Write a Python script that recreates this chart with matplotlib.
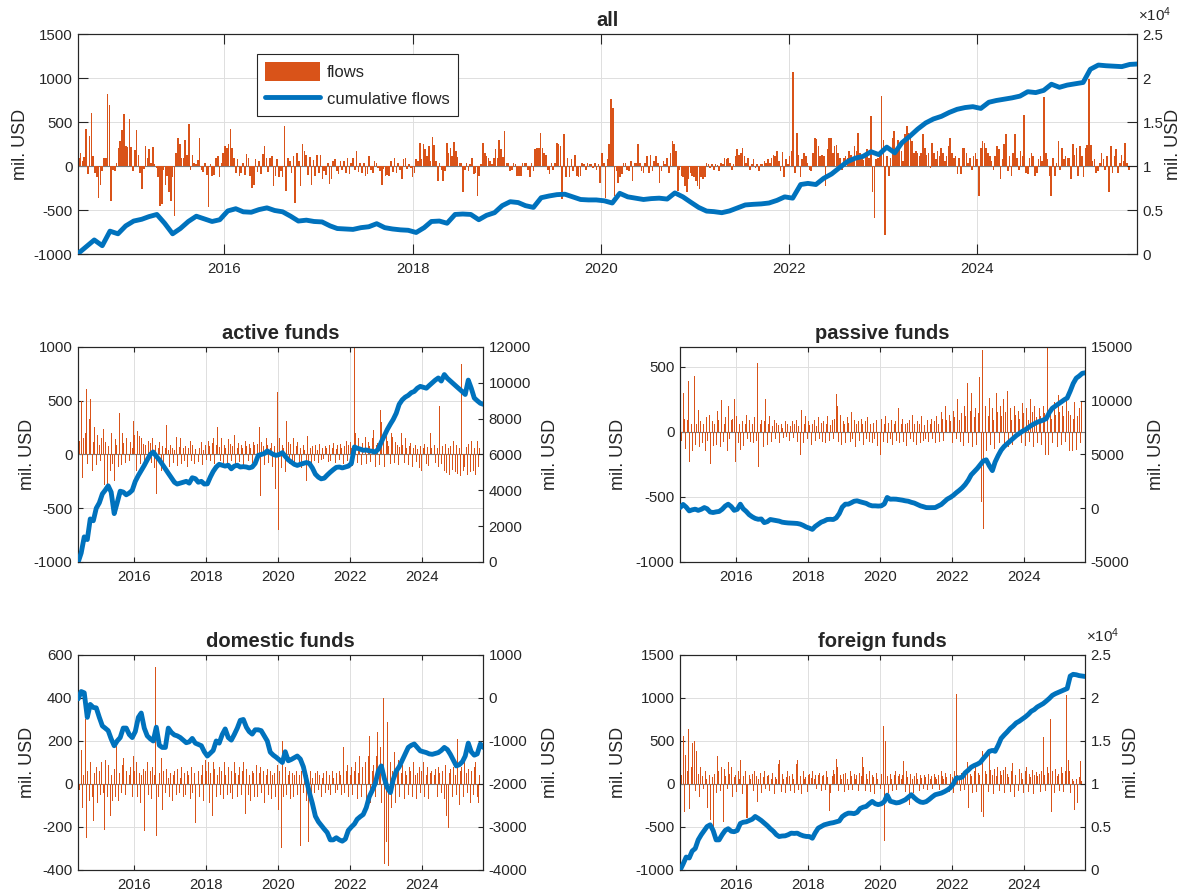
import matplotlib
matplotlib.use('Agg')
import matplotlib.pyplot as plt
import matplotlib.dates as mdates
from matplotlib.ticker import FuncFormatter
import pandas as pd

plt.rcParams['font.family'] = ['Liberation Sans', 'DejaVu Sans']
plt.rcParams['axes.unicode_minus'] = False
plt.rcParams['mathtext.fontset'] = 'custom'
plt.rcParams['mathtext.rm'] = 'Liberation Sans'

BAR_C = '#D95319'
LINE_C = '#0072BD'
TXT_C = '#262626'
GRID_C = '#dedede'

# ---- data (mil. USD) ----
# weekly flows, all funds
all_flows = [
    95, 150, 60, 100, 425, -95, 340, 600, 110, -80,
    -120, -360, -210, -60, 95, 95, 820, 690, -400, -40,
    -60, 30, 200, 280, 415, 590, 230, 220, 540, 220,
    -60, 180, 415, 130, -80, -260, -30, 230, 95, 190,
    40, 215, 20, -20, -130, -455, -435, -40, -220, -110,
    -300, -400, -130, -570, 145, 315, 245, 95, 90, 300,
    130, 475, -40, 120, 40, 20, 70, 320, -40, -70,
    40, -100, -460, 20, -110, -100, 90, 110, -120, 30,
    150, 230, 210, 250, 425, 210, 95, -80, 80, -110,
    -80, 40, -100, 140, 95, -110, -245, -220, 80, -70,
    60, -95, 140, 230, 95, -70, 95, 110, -230, -110,
    80, -130, -60, -120, 450, -285, 95, 60, -80, 110,
    -420, 150, 60, -230, 255, 170, 130, -100, 100, -210,
    70, -115, 130, -80, 130, -150, -60, -100, 40, -200,
    -150, 60, 80, -60, -90, 60, -40, 60, -80, 95,
    -95, 40, 95, -50, 170, -70, 40, -80, 30, -110,
    -90, 110, -50, -80, 60, 30, -20, -60, -210, -30,
    -110, -100, -110, 60, -70, 90, -80, 40, -50, -150,
    80, 95, -30, 20, -20, -130, -80, 80, 60, 265,
    80, 245, 190, 110, 230, 60, 325,
    240, 60, -170, 30, -40, -170, -60, 265, 150, 210,
    110, 275, 170, 100, 40, 40, -295, -40, 40, -60,
    20, 95, -95, -80, -340, -110, 20, 265, 150, 110,
    95, 60, 20, 95, 190, 95, 300, 190, 100, 400,
    30, 40, -60, -40, 40, 20, -110, -110, -110, 40,
    40, 40, -40, -130, 40, -60, 190, 210, 210, 370,
    210, 150, 130, -40, -95, 40, -40, 40, 260, 245,
    230, -380, 360, -130, 95, -130, 80, -60, 120, -110,
    -130, -110, 40, 20, -40, 40, 20, 20, -20, 40,
    -40, 20, -190, 150, 40, -360, 80, 250, 765, 665,
    -340, -60, -190, -130, -95, 40, 40, -40, -60, 60,
    -170, 40, 40, 245, 40, -60, -80, 40, 110, -80,
    120, -60, 60, 110, 40, -195, -60, 60, 20, 95,
    -80, 150, 290, 245, 170, -285, -40, -110, -130, -230,
    -300, -150, -80, -110, -130, -170, -230, -265, -130, -150,
    -130, 40, 20, -20, 20, -40, 20, 10, -60, 40,
    20, 95, 80, 95, 40, -40, 20, 110, 190, 130,
    150, 210, 110, 40, 95, -40, 20, 80, -20, 20,
    -60, 20, 20, 60, 40, 80, 40,
    95, 130, 110, 170, 60, -60, 160, -130, 80, 20,
    110, 170, 1070, -80, 380, 120, -130, 80, 150, 110,
    40, -40, -60, 150, 320, 310, 230, 110, 130, 110,
    -230, 190, 320, 320, 150, 230, 235, 150, 95, -40,
    95, 110, 95, 170, 130, 95, 230, 170, 380, 150,
    110, 70, 150, 190, 95, 570, -300, -590, 80, 95,
    150, 800, 300, -780, 110, -110, 95, 320, 400, 190,
    300, 250, 170, 60, 360, 450, 380, 360, 290, 150,
    170, 150, 110, 150, 360, 210, 130, 150, -20, 265,
    150, 80, 170, 110, 210, 150, 60, 110, 230, 320,
    150, 95, 110, -95, 95, -95, 210, 210, 150, 40,
    95, -40, 110, 150, 80, -340, 210, 285, 265, 210,
    150, 110, 60, -40, 110, 230, 190, -150, 80, 250,
    360, -60, 110, -110, 150, 360, 95, -40, 170, 110,
    575, -80, -95, 95, 150, 110, -110, -80, 80, 110,
    60, 790, 150, 80, -110, -340, 95, -110, 40, 285,
    -40, 210, 80, 110, 95, 95, -150, 245, 130, 210,
    -110, 230, 110, -130, 210, 235, 985, 235, 60, 80,
    -80, -60, 40, 150, 80, -40, 110, -300, 230, -80,
    110, 190, -80, 40, 130, 60, 265, 40, -40,
]

# monthly cumulative flows, all funds
all_cum = [
    100, 830, 1600, 950, 2600, 2300, 3200, 3750, 3950, 4250, 4500, 3500,
    2300, 2900, 3700, 4300, 4000, 3700, 3900, 4900, 5150, 4800, 4750, 5050,
    5250, 4950, 4800, 4300, 3750, 3850, 3700, 3650, 3200, 2900, 2850, 2800,
    3000, 3100, 3450, 3000, 2850, 2750, 2700, 2450, 3000, 3700, 3750, 3500,
    4500, 4550, 4500, 3900, 4400, 4700, 5500, 5950, 5850, 5500, 5300, 6400,
    6600, 6750, 6800, 6500, 6200, 6150, 6150, 6050, 5800, 6900, 6500, 6350,
    6200, 6300, 6350, 6250, 6950, 6500, 5900, 5300, 4880, 4820, 4700, 4900,
    5250, 5580, 5650, 5700, 5800, 6100, 6500, 6350, 7900, 8030, 7900, 8600,
    9100, 9800, 10500, 10900, 11100, 11630, 11300, 12150, 11500, 12650, 13400, 14200,
    14900, 15350, 15650, 16100, 16450, 16650, 16750, 16550, 17250, 17450, 17600, 17750,
    17950, 18450, 18350, 18600, 19300, 18950, 19200, 19350, 19500, 21000, 21480, 21400,
    21350, 21300, 21550, 21600,
]

# bi-weekly flows and monthly cumulative flows per fund group
active_flows = [
    270, 130, 500, -220, 150, 200, 610, -90, 330, 520, -150, 120, 260, -100, 180, 90, -60, 150, 240, -280, 120, -330, 80, -150, 200, -90,
    -250, 140, 90, -120, 390, -100, 200, 110, -80, 150, 90, -60, 120, 60, 310, 180, -150, 220, 170, -90, 150, 100, -120, 90, -60, 130,
    110, -80, 150, -130, 90, -370, 60, 120, -150, 80, -90, 60, 270, 40, -120, 90, 60, -80, 40, 160, -110, 70, 150, -90, 60, -60,
    80, -120, 60, 130, -60, 90, -90, 50, 100, -70, 60, 120, -100, 40, 90, -50, 130, 80, -60, 110, 150, -90, 90, 260, 70, -60,
    150, -80, 90, 60, -110, 140, 100, -60, 80, 180, -90, 60, 110, -70, 90, 60, -100, 130, 80, -60, 100, 60, -80, 120, 90, -50,
    100, 260, -390, 120, 80, -100, 150, 90, -80, 60, 110, -120, 80, -320, 580, -700, 150, -130, 90, 60, -160, 310, 120, -90, 100, -60,
    150, -100, 80, 120, -80, 60, -130, 90, 40, -250, 170, -90, 60, -120, 80, -60, 90, 40, -80, 100, -50, 60, -40, 80, 60, -70,
    90, -60, 60, 110, -80, 50, 90, -50, 100, 60, -90, 80, 130, -60, 90, 120, 60, -110, 1000, 200, -80, 150, 60, -100, 110, 80,
    160, -90, 120, 80, -70, 150, 230, -120, 90, 110, -100, 410, 300, 180, -120, 250, 130, 80, -90, 200, 160, -80, 120, 90, -100, 70,
    200, 90, -80, 150, 60, -100, 80, 110, -120, 60, 90, -70, 50, -130, 80, -150, 60, 100, -90, 70, -110, 200, 60, -130, 90, -80,
    60, -120, 450, -90, 80, -150, 100, -170, 60, -190, 80, -140, 130, -160, 90, -180, 60, -200, 840, -150, -120, 70, -190, 100, -160, 130,
    -150, 60, -190, 130, -120, 60,
]
active_cum = [
    0, 500, 1400, 1250, 2400, 2300, 3000, 3300, 3800, 4000, 4250, 3900,
    2700, 3300, 3950, 3900, 3750, 3850, 4000, 4500, 4830, 5100, 5390, 5700,
    6000, 6140, 5900, 5700, 5450, 5200, 4950, 4700, 4450, 4350, 4400, 4450,
    4500, 4400, 4700, 4650, 4450, 4500, 4350, 4360, 4750, 5050, 5300, 5450,
    5400, 5350, 5400, 5200, 5350, 5400, 5300, 5320, 5300, 5250, 5300, 5500,
    5950, 6000, 6050, 6200, 6100, 6000, 5950, 6000, 6100, 5900, 5700, 5580,
    5450, 5390, 5450, 5500, 5550, 5500, 5250, 4900, 4730, 4640, 4680, 4850,
    5010, 5150, 5280, 5300, 5250, 5300, 5350, 5500, 6420, 6350, 6300, 6230,
    6250, 6200, 6180, 6140, 6300, 6700, 7050, 7400, 7700, 7950, 8300, 8800,
    9050, 9200, 9300, 9450, 9520, 9700, 9800, 9750, 9700, 9850, 10000, 10150,
    10270, 10100, 10460, 10250, 10100, 9950, 9800, 9650, 9500, 9350, 10150, 9700,
    9150, 9000, 8860, 8800,
]

passive_flows = [
    150, -70, 300, 100, -130, 90, 390, -230, 60, -150, 430, -100, 60, 170, -120, 80, -90, 60, -150, 110, -70, 130, -250, 80, -110, 60,
    -100, 160, 90, -120, 240, -80, 60, 110, -150, 200, -60, 90, 100, 250, -230, 120, -90, 60, -140, 80, -110, 60, 130, -60, 90, -80,
    60, -90, 110, -70, 530, -270, 60, 90, -120, 80, 250, -100, 60, 120, -80, 40, 90, -60, 70, 50, -90, 60, 30, -50, 80, -40,
    60, -70, 40, 80, -50, 60, 90, -80, 40, -180, 170, -90, 60, 120, -60, 80, 50, -100, 60, 90, -70, 40, 110, -60, 70, -80,
    80, -90, 60, 120, -70, 50, 90, -60, 100, 290, 200, -80, 130, -100, 80, 60, -90, 110, 70, -80, 150, -60, 90, -120, 60, 80,
    -70, 100, 60, -100, 80, -60, 110, -80, 60, -90, 70, -60, 90, -110, 480, -180, 100, -80, 60, 120, -90, 70, -60, 90, -100, 60,
    80, -70, 180, -90, 60, 100, -80, 60, -110, 70, 90, -60, 130, -80, 60, -100, 80, 60, -90, 120, -70, 50, -60, 90, -80, 60,
    100, -60, 80, -90, 120, 60, -80, 150, 100, -70, 200, 90, -100, 130, 80, -90, 160, 110, -60, 250, 90, -80, 140, -110, 200, 120,
    370, -90, 160, 300, -120, 110, 180, -100, 140, 420, -540, 630, -750, 200, -150, 120, 260, -100, 180, 90, -130, 300, 150, -90, 200, 120,
    250, -100, 150, 310, -120, 180, 90, -100, 200, 130, -240, 160, 100, -90, 220, 140, -110, 180, 90, -80, 250, 150, -120, 200, 110, -90,
    180, 120, -100, 200, 140, -180, 650, -180, 160, 100, -90, 230, 130, -120, 280, 150, -100, 200, 120, -80, 250, 160, -150, 130, -150, 100,
    230, -140, 120, 180, -90, 230,
]
passive_cum = [
    60, 350, 100, -250, -150, -90, -200, -100, 60, -50, -350, -400,
    -340, -300, -100, 200, 375, 150, -200, -100, 375, -50, -300, -600,
    -800, -950, -1030, -1000, -1340, -1250, -1050, -1100, -1150, -1200, -1300, -1340,
    -1370, -1380, -1400, -1420, -1480, -1600, -1750, -1850, -1970, -1700, -1500, -1300,
    -1190, -1050, -1030, -1050, -900, -500, 100, 375, 380, 500, 650, 690,
    600, 530, 450, 300, 220, 220, 200, 220, 400, 1000, 840, 850,
    840, 800, 750, 690, 650, 550, 480, 350, 220, 150, 60, 50,
    60, 60, 200, 350, 600, 850, 1000, 1200, 1450, 1650, 1900, 2200,
    2600, 3100, 3400, 3700, 4050, 4400, 4500, 3950, 3500, 4300, 4900, 5400,
    5750, 6000, 6250, 6500, 6750, 6950, 7150, 7300, 7500, 7700, 7850, 8000,
    8100, 8200, 8340, 8900, 9300, 9500, 9700, 9900, 10100, 10250, 10900, 11600,
    12100, 12300, 12550, 12600,
]

domestic_flows = [
    120, -30, 160, -110, 40, 300, -250, 60, -80, 100, -60, -170, 50, 80, -90, 60, -50, 100, -40, -216, 110, -60, 90, -150, 40, -80,
    70, -60, 176, -80, 50, -40, 90, 120, -50, 60, -70, 40, 80, -60, 130, 60, 100, -60, 50, -90, 40, 70, -220, 60, 100, -50,
    60, -70, 80, 40, 546, -241, -60, 50, 120, -120, 60, -40, 70, 30, -60, 50, -80, 40, 60, -50, 70, -40, 30, 80, -60, 50,
    -50, 60, 40, -70, 80, -40, 50, -182, 130, 60, -60, 40, 90, -80, 110, 60, 100, -90, 50, -150, 100, 70, -60, 40, 80, -50,
    60, -70, 100, 40, -50, 80, -40, 60, -70, 100, 50, -60, 40, 80, -50, 60, 100, -140, 70, -50, 40, -80, 60, 50, -60, 90,
    -60, 50, 80, -40, 60, -90, 40, 70, -50, 60, -70, 40, 50, -60, 90, -120, 60, -296, 200, -60, 80, -50, 40, 60, -70, 50,
    -60, 40, 60, -50, 40, -290, 60, -40, 50, -80, 40, -270, 60, -50, 30, -40, 50, 60, -30, 40, -60, 30, 50, -40, 60, -30,
    40, -50, 60, 30, -40, 50, -30, 60, 40, -50, 170, -40, 60, 90, -60, 40, 80, -50, 60, 100, -70, 50, 130, -60, 80, 60,
    100, -80, 130, 222, -90, 60, 90, -60, 130, 240, 60, 170, -90, 402, -372, -270, 290, -380, 100, -110, 60, 150, -90, 80, 110, -60,
    50, 90, -70, 60, 40, -50, 80, 60, -60, 100, 40, -70, 50, 80, -40, 60, 100, -60, 40, 80, -70, 50, 60, -50, 40, 70,
    -60, 80, 50, -40, 60, -70, 90, -150, -205, 50, 70, -60, 80, 40, -50, 210, -100, 60, 80, -60, 100, 50, -40, 70, -90, 60,
    -50, 80, 100, -60, -90, 40,
]
domestic_cum = [
    -20, 150, 120, -450, -150, -220, -230, -450, -650, -700, -760, -950,
    -1110, -1000, -920, -700, -700, -850, -920, -780, -450, -350, -700, -880,
    -950, -1000, -680, -1100, -1150, -1150, -700, -800, -860, -880, -920, -980,
    -1040, -1020, -940, -1050, -1080, -1110, -1250, -1350, -1280, -1220, -1000, -1050,
    -850, -720, -920, -980, -850, -700, -520, -500, -680, -780, -840, -740,
    -740, -760, -880, -1000, -1260, -1330, -1380, -1440, -1500, -1250, -1460, -1430,
    -1390, -1350, -1420, -1600, -1900, -2200, -2450, -2750, -2880, -2960, -3050, -3130,
    -3300, -3300, -3250, -3300, -3330, -3280, -3080, -3000, -2930, -2820, -2760, -2710,
    -2550, -2300, -2150, -1980, -1700, -1580, -1870, -2090, -2200, -1900, -1700, -1600,
    -1450, -1300, -1150, -1100, -1070, -1150, -1230, -1250, -1270, -1300, -1310, -1290,
    -1270, -1220, -1150, -1200, -1310, -1450, -1580, -1550, -1480, -1350, -1050, -1250,
    -1330, -1300, -1070, -1150,
]

foreign_flows = [
    240, 100, 560, -330, 340, 150, 640, -290, 200, 480, 500, -80, 380, 120, -150, 200, 90, -60, 150, 60, -280, 100, -414, 80, -513, 120,
    -100, 330, 150, -80, 200, -440, 180, 90, -60, 260, 120, 200, -150, 80, 100, -90, 150, 60, 280, -120, 90, 150, -400, -390, 100, 60,
    120, -80, 150, 90, -210, 60, 130, -100, 80, 150, -60, 90, 110, -80, 60, 130, -120, 80, 60, 230, 280, -90, 120, 60, -100, 80,
    150, 90, -80, 120, 60, -100, 230, 280, -70, 90, -120, 150, 60, 80, -90, 110, 120, 70, 150, 60, 100, -60, 100, 130, -80, 90,
    110, -70, 150, 80, -310, -100, 90, 160, 120, 292, 200, -80, 100, 60, 120, -90, 130, 60, -70, 150, 90, -70, 120, 60, 100, -80,
    130, 90, 310, 200, -80, 120, 60, 150, -90, 100, 80, -120, 130, 60, 100, -60, 120, 680, -661, 500, 90, -100, 120, 60, -80, 100,
    150, -70, 90, 120, 60, 100, 270, -90, 150, 80, -250, 120, 60, -100, 90, 130, 60, -80, 110, 70, -60, 100, 80, -70, 120, 60,
    90, -60, 120, 80, 60, 100, -70, 150, 90, 60, 130, 80, 150, -90, 120, 80, -100, 150, 1042, 110, 60, -80, 130, 100, -70, 90,
    250, -280, 120, 90, -100, 150, 200, -90, 130, 100, -330, 380, -380, 150, 120, -90, 350, 160, 100, -120, 180, 90, 200, -80, 150, 110,
    160, -100, 200, 120, 80, -90, 150, 240, -150, 110, 90, -80, 180, 130, 60, -100, 150, 200, -90, 120, 80, 160, -120, 100, 140, 90,
    120, -90, 150, 545, 100, -80, 200, 130, 750, -330, 150, -100, 180, 90, 120, -80, 200, 130, -90, 150, 1040, 280, 150, -100, 60, 40,
    -300, 60, -220, 80, 270, 40,
]
foreign_cum = [
    0, 700, 1500, 1400, 2200, 2500, 3500, 4100, 4600, 5050, 5250, 4600,
    3500, 3500, 4100, 4600, 4800, 4500, 4450, 4600, 5400, 5550, 5600, 5750,
    5900, 6220, 6000, 5750, 5450, 5150, 4800, 4500, 4100, 3890, 3950, 3970,
    4100, 4280, 4250, 4280, 4100, 3970, 3900, 3890, 3690, 4300, 4860, 5050,
    5250, 5350, 5440, 5500, 5600, 5700, 6200, 6450, 6610, 6600, 6550, 6700,
    7150, 7300, 7390, 7700, 7970, 7700, 7600, 7700, 7950, 8700, 8000, 7900,
    7800, 7850, 8000, 8170, 8450, 8750, 8400, 8100, 7900, 7850, 7950, 8200,
    8500, 8750, 8850, 8940, 9100, 9300, 9550, 10000, 10700, 10700, 10800, 11300,
    11600, 11950, 12150, 12300, 12500, 12950, 13350, 13800, 13900, 13800, 14500, 15300,
    15700, 16050, 16450, 16750, 17100, 17300, 17550, 17800, 18100, 18450, 18650, 18950,
    19150, 19350, 19640, 19950, 20300, 20500, 20650, 20800, 20950, 21100, 22550, 22750,
    22700, 22600, 22550, 22500,
]

XMIN = pd.Timestamp('2014-06-13')
XMAX = pd.Timestamp('2025-09-12')


def week_dates(n):
    return pd.date_range('2014-06-16', periods=n, freq='7D')


def fortnight_dates(n):
    return pd.date_range('2014-06-16', periods=n, freq='14D')


def month_dates(n):
    return pd.date_range('2014-06-01', periods=n, freq='MS') + pd.Timedelta(days=14)


def panel(ax, flows, fdates, cum, title, ylim_l, yt_l, ylim_r, yt_r,
          bar_w, lab_l, lab_r, tick_len=3.6, sci=False):
    ax.bar(fdates, flows, width=bar_w, color=BAR_C, linewidth=0, zorder=2)
    ax.axhline(0, color='#7a7a7a', lw=0.8, zorder=1)
    ax.set_xlim(XMIN, XMAX)
    ax.set_ylim(*ylim_l)
    ax.set_yticks(yt_l)
    ax.xaxis.set_major_locator(mdates.YearLocator(2))
    ax.xaxis.set_major_formatter(mdates.DateFormatter('%Y'))
    ax.grid(True, color=GRID_C, lw=0.7)
    ax.set_axisbelow(True)
    ax.tick_params(direction='in', length=tick_len, width=0.8, top=True, right=False,
                   color=TXT_C, labelcolor=TXT_C, labelsize=10.8)
    ax.tick_params(axis='x', pad=6)
    ax.tick_params(axis='y', pad=4)
    ax.set_ylabel('mil. USD', fontsize=13, color=TXT_C)
    ax.yaxis.set_label_coords(lab_l, 0.5)
    ax.set_title(title, fontsize=14.5, fontweight='bold', color=TXT_C, pad=6)

    ax2 = ax.twinx()
    ax2.plot(month_dates(len(cum)), cum, color=LINE_C, lw=3.5, solid_joinstyle='round',
             solid_capstyle='round', zorder=3)
    ax2.set_xlim(XMIN, XMAX)
    ax2.set_ylim(*ylim_r)
    ax2.set_yticks(yt_r)
    if sci:
        ax2.yaxis.set_major_formatter(FuncFormatter(lambda v, p: f'{v / 1e4:g}'))
        ax2.annotate(r'$\times\mathregular{10^{4}}$', xy=(1.0, 1.0), xycoords='axes fraction',
                     xytext=(1, 7), textcoords='offset points',
                     ha='left', va='bottom', fontsize=10.8, color=TXT_C)
    ax2.tick_params(direction='in', length=tick_len, width=0.8, color=TXT_C,
                    labelcolor=TXT_C, labelsize=10.8, pad=4)
    ax2.set_ylabel('mil. USD', fontsize=13, color=TXT_C)
    ax2.yaxis.set_label_coords(lab_r, 0.5)
    for a in (ax, ax2):
        for s in a.spines.values():
            s.set_color(TXT_C)
            s.set_linewidth(0.8)
    return ax2


fig = plt.figure(figsize=(11.84, 8.92), dpi=100)

ax_all = fig.add_axes([0.0659, 0.7152, 0.8944, 0.2466])
ax_act = fig.add_axes([0.0659, 0.3700, 0.3421, 0.2410])
ax_pas = fig.add_axes([0.5743, 0.3700, 0.3421, 0.2410])
ax_dom = fig.add_axes([0.0659, 0.0247, 0.3421, 0.2410])
ax_for = fig.add_axes([0.5743, 0.0247, 0.3421, 0.2410])

ax2_all = panel(ax_all, all_flows, week_dates(len(all_flows)), all_cum, 'all',
                (-1000, 1500), range(-1000, 1501, 500), (0, 25000), range(0, 25001, 5000),
                6.2, -0.046, 1.026, tick_len=7.5, sci=True)
panel(ax_act, active_flows, fortnight_dates(len(active_flows)), active_cum, 'active funds',
      (-1000, 1000), range(-1000, 1001, 500), (0, 12000), range(0, 12001, 2000),
      10, -0.104, 1.145)
panel(ax_pas, passive_flows, fortnight_dates(len(passive_flows)), passive_cum, 'passive funds',
      (-1000, 650), range(-1000, 501, 500), (-5000, 15000), range(-5000, 15001, 5000),
      10, -0.130, 1.155)
panel(ax_dom, domestic_flows, fortnight_dates(len(domestic_flows)), domestic_cum, 'domestic funds',
      (-400, 600), range(-400, 601, 200), (-4000, 1000), range(-4000, 1001, 1000),
      10, -0.104, 1.145)
panel(ax_for, foreign_flows, fortnight_dates(len(foreign_flows)), foreign_cum, 'foreign funds',
      (-1000, 1500), range(-1000, 1501, 500), (0, 25000), range(0, 25001, 5000),
      10, -0.130, 1.093, sci=True)

# legend on the top panel
h_bar = ax_all.patches[0]
h_line = ax2_all.lines[0]
leg = ax2_all.legend([h_bar, h_line], ['flows', 'cumulative flows'], loc='upper left',
                     bbox_to_anchor=(0.169, 0.909), borderaxespad=0, fontsize=12,
                     fancybox=False, framealpha=1, edgecolor=TXT_C, handlelength=3.3,
                     handleheight=1.3, handletextpad=0.4, labelspacing=0.55, borderpad=0.5)
leg.get_frame().set_linewidth(0.8)
for t in leg.get_texts():
    t.set_color(TXT_C)

fig.savefig('out.png', dpi=100)
